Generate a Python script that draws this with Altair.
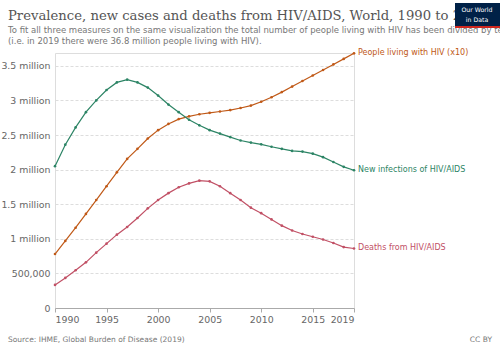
import altair as alt
import pandas as pd

years = list(range(1990, 2020))
plhiv_x10 = [0.78, 0.97, 1.16, 1.36, 1.56, 1.76, 1.96, 2.155, 2.30, 2.45,
             2.57, 2.66, 2.73, 2.77, 2.80, 2.82, 2.84, 2.86, 2.89, 2.925,
             2.98, 3.045, 3.12, 3.20, 3.28, 3.36, 3.44, 3.52, 3.60, 3.68]
new_inf = [2.05, 2.36, 2.61, 2.83, 3.00, 3.15, 3.26, 3.30, 3.26, 3.185,
           3.07, 2.94, 2.83, 2.72, 2.64, 2.57, 2.52, 2.47, 2.42, 2.39,
           2.365, 2.33, 2.30, 2.27, 2.26, 2.23, 2.18, 2.11, 2.04, 1.99]
deaths = [0.334, 0.435, 0.545, 0.66, 0.80, 0.93, 1.06, 1.17, 1.30, 1.44,
          1.56, 1.66, 1.745, 1.80, 1.84, 1.83, 1.76, 1.66, 1.56, 1.45,
          1.37, 1.28, 1.19, 1.12, 1.07, 1.03, 0.99, 0.94, 0.88, 0.86]
series_names = ["People living with HIV (x10)", "New infections of HIV/AIDS", "Deaths from HIV/AIDS"]
series_colors = ["#c05917", "#2c8465", "#c15065"]
x_ticks = [1990, 1995, 2000, 2005, 2010, 2015, 2019]
y_ticks = [0, 500000, 1000000, 1500000, 2000000, 2500000, 3000000, 3500000]

title_text = "Prevalence, new cases and deaths from HIV/AIDS, World, 1990 to 2019"
subtitle_1 = "To fit all three measures on the same visualization the total number of people living with HIV has been divided by ten"
subtitle_2 = "(i.e. in 2019 there were 36.8 million people living with HIV)."
source_text = "Source: IHME, Global Burden of Disease (2019)"
license_text = "CC BY"

rows = []
for name, vals in zip(series_names, [plhiv_x10, new_inf, deaths]):
    for y, v in zip(years, vals):
        rows.append({"year": y, "value": v * 1e6, "series": name})
df = pd.DataFrame(rows)

W, H = 299, 255
PL, PT = 55, 53

xscale = alt.Scale(domain=[1990, 2019], nice=False)
yscale = alt.Scale(domain=[0, 3685000], nice=False)
color = alt.Color("series:N", scale=alt.Scale(domain=series_names, range=series_colors), legend=None)

x_axis = alt.Axis(values=x_ticks, format="d", labelFlush=True, grid=False,
                  labelOverlap=False,
                  domainColor="#aaa", tickColor="#aaa", tickSize=4,
                  labelColor="#666", labelFontSize=9.4, labelFont="DejaVu Sans",
                  labelPadding=3)
y_axis = alt.Axis(values=y_ticks, domain=False, ticks=False, gridDash=[3, 2],
                  labelOverlap=False,
                  gridColor="#ddd", labelColor="#666", labelFontSize=9.4,
                  labelFont="DejaVu Sans", labelPadding=5,
                  labelExpr="datum.value == 0 ? '0' : (datum.value < 1000000 ? format(datum.value, ',') : format(datum.value / 1000000, '') + ' million')")

base = alt.Chart(df)

lines = base.mark_line(strokeWidth=1.2, point=alt.OverlayMarkDef(size=7, filled=True)).encode(
    x=alt.X("year:Q", scale=xscale, title=None, axis=x_axis),
    y=alt.Y("value:Q", scale=yscale, title=None, axis=y_axis),
    color=color,
    detail="series:N",
)

labels = base.transform_filter(alt.datum.year == 2019).mark_text(
    align="left", baseline="middle", dx=4, fontSize=8.0, font="DejaVu Sans"
).encode(
    x=alt.X("year:Q", scale=xscale, title=None, axis=x_axis),
    y=alt.Y("value:Q", scale=yscale, title=None, axis=y_axis),
    text="series:N",
    color=color,
)


def text_mark(t, x, y, size, col, font="DejaVu Sans", align="left"):
    return alt.Chart(pd.DataFrame({"t": [t]})).mark_text(
        color=col, fontSize=size, font=font, align=align, baseline="middle").encode(
        text="t:N", x=alt.value(x - PL), y=alt.value(y - PT))


title = text_mark(title_text, 8, 16, 13.2, "#555", font="DejaVu Serif")
sub1 = text_mark(subtitle_1, 8, 30, 8.5, "#777")
sub2 = text_mark(subtitle_2, 8, 41, 8.5, "#777")
source = text_mark(source_text, 8, 340, 7.5, "#777")
ccby = text_mark(license_text, 492, 340, 7.5, "#777", align="right")

logo_bg = alt.Chart(pd.DataFrame({"a": [0]})).mark_rect(color="#002147").encode(
    x=alt.value(455 - PL), x2=alt.value(500 - PL), y=alt.value(3 - PT), y2=alt.value(27 - PT))
logo_red = alt.Chart(pd.DataFrame({"a": [0]})).mark_rect(color="#ce261e").encode(
    x=alt.value(455 - PL), x2=alt.value(500 - PL), y=alt.value(26 - PT), y2=alt.value(28 - PT))
logo_t1 = text_mark("Our World", 477, 9.5, 6.2, "white", align="center")
logo_t2 = text_mark("in Data", 477, 20, 6.2, "white", align="center")

chart = alt.layer(lines, labels, title, sub1, sub2, source, ccby,
                  logo_bg, logo_red, logo_t1, logo_t2).properties(
    width=W, height=H,
    autosize=alt.AutoSizeParams(type="none"),
    padding={"left": PL, "top": PT, "right": 500 - PL - W, "bottom": 353 - PT - H},
).configure_view(strokeWidth=0, strokeOpacity=0).configure(background="white")

chart.save("out.html", embed_options={"renderer": "svg", "actions": False})
